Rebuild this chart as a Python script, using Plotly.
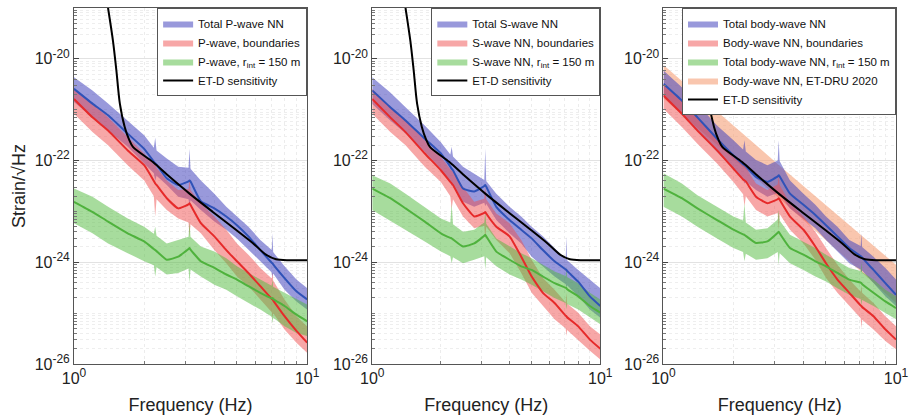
import numpy as np
import plotly.graph_objects as go

# Frequency grid (Hz) shared by all noise curves
FREQ = [1.0, 1.2, 1.4, 1.7, 2.0, 2.2, 2.23, 2.26, 2.5, 2.8, 3.1, 3.13, 3.16, 3.5,
        4.0, 4.5, 5.0, 5.6, 6.3, 7.05, 7.1, 7.15, 8.0, 9.0, 10.0]

# All values below: log10 of strain ASD (1/sqrt(Hz))
# ---- Panel 1: P-waves
P_TOTAL = [-20.59, -20.88, -21.11, -21.47, -21.77, -22.02, -22.05, -22.08, -22.35, -22.48, -22.41, -22.39, -22.41,
           -22.80, -22.94, -23.10, -23.27, -23.49, -23.76, -24.01, -24.02, -24.04, -24.31, -24.57, -24.73]
P_TOTAL_HI = [-20.36, -20.62, -20.88, -21.21, -21.50, -21.75, -21.55, -21.80, -21.96, -22.12, -22.14, -21.77, -22.16,
              -22.39, -22.65, -22.91, -23.10, -23.30, -23.56, -23.76, -23.43, -23.80, -24.08, -24.34, -24.51]
P_TOTAL_LO = [-20.85, -21.15, -21.41, -21.73, -22.06, -22.25, -22.40, -22.30, -22.48, -22.71, -22.76, -22.90, -22.78,
              -22.97, -23.20, -23.36, -23.53, -23.76, -23.98, -24.20, -24.30, -24.22, -24.54, -24.77, -24.93]
P_BOUND = [-20.79, -21.15, -21.41, -21.80, -22.09, -22.40, -22.45, -22.48, -22.74, -22.94, -22.86, -22.84, -22.87,
           -23.23, -23.49, -23.76, -23.98, -24.21, -24.47, -24.72, -24.73, -24.75, -25.06, -25.35, -25.58]
P_BOUND_HI = [-20.59, -20.88, -21.15, -21.54, -21.86, -22.08, -22.05, -22.14, -22.39, -22.58, -22.56, -22.35, -22.58,
              -22.84, -23.10, -23.36, -23.63, -23.85, -24.11, -24.32, -24.20, -24.36, -24.73, -25.06, -25.26]
P_BOUND_LO = [-21.08, -21.44, -21.70, -22.09, -22.39, -22.70, -23.10, -22.76, -22.97, -23.14, -23.22, -23.50, -23.25,
              -23.43, -23.76, -24.02, -24.28, -24.47, -24.73, -24.98, -25.10, -25.00, -25.32, -25.58, -25.78]
P_RINT = [-22.81, -23.01, -23.20, -23.43, -23.59, -23.74, -23.76, -23.78, -23.95, -23.89, -23.74, -23.72, -23.75,
          -23.98, -24.11, -24.24, -24.34, -24.47, -24.60, -24.71, -24.70, -24.72, -24.86, -25.03, -25.16]
P_RINT_HI = [-22.55, -22.71, -22.91, -23.14, -23.30, -23.44, -23.30, -23.48, -23.63, -23.56, -23.50, -23.20, -23.50,
             -23.69, -23.79, -23.92, -24.08, -24.21, -24.34, -24.46, -24.34, -24.48, -24.60, -24.73, -24.83]
P_RINT_LO = [-23.23, -23.43, -23.63, -23.82, -23.98, -24.06, -24.28, -24.10, -24.24, -24.21, -24.12, -24.40, -24.14,
             -24.28, -24.44, -24.54, -24.67, -24.80, -24.93, -25.07, -25.20, -25.09, -25.26, -25.39, -25.45]

# ---- Panel 2: S-waves
S_TOTAL = [-20.62, -20.95, -21.21, -21.57, -21.86, -22.12, -22.16, -22.19, -22.55, -22.61, -22.50, -22.48, -22.51,
           -22.91, -23.17, -23.36, -23.53, -23.76, -23.98, -24.14, -24.15, -24.17, -24.38, -24.67, -24.86]
S_TOTAL_HI = [-20.36, -20.66, -20.95, -21.31, -21.64, -21.88, -21.73, -21.92, -22.12, -22.26, -22.38, -21.77, -22.40,
              -22.65, -22.91, -23.10, -23.30, -23.49, -23.72, -23.94, -23.50, -23.96, -24.15, -24.34, -24.51]
S_TOTAL_LO = [-20.89, -21.21, -21.47, -21.83, -22.16, -22.42, -22.50, -22.47, -22.81, -22.91, -22.83, -22.90, -22.85,
              -23.17, -23.43, -23.63, -23.89, -24.08, -24.28, -24.43, -24.50, -24.45, -24.67, -24.93, -25.09]
S_BOUND = [-20.79, -21.15, -21.44, -21.86, -22.19, -22.42, -22.45, -22.48, -22.84, -23.10, -23.03, -23.01, -23.04,
           -23.30, -23.49, -23.89, -24.28, -24.60, -24.80, -25.05, -25.06, -25.08, -25.26, -25.52, -25.70]
S_BOUND_HI = [-20.59, -20.95, -21.21, -21.60, -21.93, -22.17, -22.19, -22.22, -22.52, -22.81, -22.75, -22.50, -22.76,
              -23.04, -23.23, -23.56, -23.95, -24.31, -24.54, -24.79, -24.60, -24.81, -24.99, -25.26, -25.42]
S_BOUND_LO = [-21.08, -21.44, -21.70, -22.12, -22.42, -22.70, -22.95, -22.76, -23.10, -23.33, -23.28, -23.55, -23.30,
              -23.56, -23.82, -24.21, -24.60, -24.86, -25.12, -25.30, -25.45, -25.33, -25.52, -25.74, -25.91]
S_RINT = [-22.55, -22.74, -22.94, -23.20, -23.43, -23.52, -23.53, -23.55, -23.69, -23.63, -23.48, -23.46, -23.49,
          -23.79, -23.95, -24.08, -24.15, -24.28, -24.41, -24.50, -24.51, -24.53, -24.67, -24.86, -24.99]
S_RINT_HI = [-22.29, -22.45, -22.65, -22.91, -23.14, -23.22, -22.85, -23.25, -23.40, -23.36, -23.22, -22.98, -23.24,
             -23.53, -23.69, -23.82, -23.92, -24.05, -24.18, -24.27, -24.10, -24.29, -24.41, -24.60, -24.73]
S_RINT_LO = [-22.97, -23.17, -23.36, -23.59, -23.79, -23.88, -24.02, -23.90, -24.02, -23.95, -23.88, -24.15, -23.90,
             -24.08, -24.24, -24.34, -24.44, -24.57, -24.70, -24.80, -24.93, -24.82, -24.93, -25.09, -25.22]

# ---- Panel 3: body waves
B_TOTAL = [-20.49, -20.82, -21.15, -21.57, -21.90, -22.07, -22.09, -22.11, -22.32, -22.42, -22.31, -22.29, -22.31,
           -22.65, -22.87, -23.07, -23.27, -23.49, -23.72, -23.88, -23.89, -23.91, -24.15, -24.41, -24.64]
B_TOTAL_HI = [-20.23, -20.56, -20.89, -21.31, -21.60, -21.78, -21.60, -21.82, -21.99, -22.09, -22.00, -21.60, -22.01,
              -22.39, -22.65, -22.87, -23.10, -23.30, -23.56, -23.68, -23.43, -23.70, -23.89, -24.11, -24.34]
B_TOTAL_LO = [-20.75, -21.08, -21.41, -21.83, -22.16, -22.37, -22.45, -22.41, -22.58, -22.71, -22.64, -22.70, -22.66,
              -22.94, -23.14, -23.33, -23.56, -23.79, -24.02, -24.14, -24.20, -24.16, -24.41, -24.67, -24.86]
B_BOUND = [-20.72, -21.08, -21.41, -21.80, -22.16, -22.37, -22.39, -22.41, -22.71, -22.84, -22.76, -22.74, -22.77,
           -23.10, -23.36, -23.69, -24.02, -24.34, -24.60, -24.85, -24.86, -24.88, -25.06, -25.32, -25.52]
B_BOUND_HI = [-20.49, -20.82, -21.15, -21.54, -21.90, -22.10, -22.05, -22.14, -22.45, -22.58, -22.47, -22.30, -22.48,
              -22.84, -23.10, -23.40, -23.72, -24.05, -24.34, -24.58, -24.45, -24.60, -24.80, -25.06, -25.26]
B_BOUND_LO = [-20.98, -21.34, -21.67, -22.06, -22.42, -22.66, -22.90, -22.70, -22.97, -23.10, -23.03, -23.36, -23.05,
              -23.36, -23.63, -23.95, -24.31, -24.60, -24.86, -25.10, -25.30, -25.13, -25.32, -25.55, -25.71]
B_RINT = [-22.55, -22.74, -22.94, -23.17, -23.36, -23.45, -23.46, -23.48, -23.62, -23.59, -23.42, -23.40, -23.43,
          -23.72, -23.85, -23.98, -24.08, -24.21, -24.34, -24.40, -24.41, -24.43, -24.60, -24.77, -24.90]
B_RINT_HI = [-22.25, -22.45, -22.68, -22.91, -23.10, -23.18, -22.84, -23.22, -23.36, -23.33, -23.16, -22.97, -23.18,
             -23.46, -23.59, -23.72, -23.85, -23.98, -24.11, -24.17, -24.00, -24.19, -24.34, -24.54, -24.67]
B_RINT_LO = [-22.91, -23.10, -23.30, -23.53, -23.72, -23.80, -23.98, -23.83, -23.95, -23.92, -23.80, -24.05, -23.82,
             -24.02, -24.15, -24.28, -24.38, -24.51, -24.64, -24.72, -24.85, -24.74, -24.86, -24.99, -25.12]

# ET-DRU 2020 body-wave NN band
FREQ_DRU = [1.0, 3.16, 10.0]
DRU_HI = [-20.12, -22.10, -24.05]
DRU_LO = [-20.78, -22.75, -24.80]

# ET-D sensitivity
FREQ_ETD = [1.30, 1.40, 1.47, 1.52, 1.573, 1.65, 1.72, 1.79, 2.18, 2.57, 3.13, 3.94, 4.95, 5.84, 6.66, 7.35, 8.36, 10.0]
ETD = [-18.0, -19.0, -19.65, -20.23, -20.88, -21.34, -21.58, -21.73, -22.03, -22.32, -22.65, -23.01, -23.36,
       -23.62, -23.85, -23.94, -23.96, -23.96]

LEGEND_TEXT = [
    ["Total P-wave NN", "P-wave, boundaries", "P-wave, r<sub>int</sub> = 150 m", None],
    ["Total S-wave NN", "S-wave NN, boundaries", "S-wave NN, r<sub>int</sub> = 150 m", None],
    ["Total body-wave NN", "Body-wave NN, boundaries", "Total body-wave NN, r<sub>int</sub> = 150 m",
     "Body-wave NN, ET-DRU 2020"],
]
ETD_NAME = "ET-D sensitivity"

PANELS = [
    (P_TOTAL, P_TOTAL_HI, P_TOTAL_LO, P_BOUND, P_BOUND_HI, P_BOUND_LO, P_RINT, P_RINT_HI, P_RINT_LO),
    (S_TOTAL, S_TOTAL_HI, S_TOTAL_LO, S_BOUND, S_BOUND_HI, S_BOUND_LO, S_RINT, S_RINT_HI, S_RINT_LO),
    (B_TOTAL, B_TOTAL_HI, B_TOTAL_LO, B_BOUND, B_BOUND_HI, B_BOUND_LO, B_RINT, B_RINT_HI, B_RINT_LO),
]

FILL_COLORS = ["rgba(70,70,190,0.55)", "rgba(240,80,80,0.5)", "rgba(80,185,60,0.5)"]
LINE_COLORS = ["#2f52b8", "#e62a2a", "#4fb23d"]
DRU_COLOR = "rgba(245,160,120,0.6)"

FONT = "Liberation Sans, Arial, Helvetica, sans-serif"
DOMAINS = [[0.0, 0.2836], [0.3628, 0.6403], [0.7171, 1.0]]

f = np.array(FREQ)


def lin(v):
    return 10.0 ** np.array(v)


def band(x, hi, lo):
    xs = np.concatenate([np.array(x), np.array(x)[::-1]])
    ys = np.concatenate([lin(hi), lin(lo)[::-1]])
    return xs, ys


def sup_label(base, exp):
    return f"{base}<sup><span style='font-size:12px'>{exp}</span></sup>"


fig = go.Figure()

for i, data in enumerate(PANELS):
    sfx = "" if i == 0 else str(i + 1)
    xa, ya = "x" + sfx, "y" + sfx
    leg = "legend" + sfx
    names = LEGEND_TEXT[i]
    if names[3] is not None:
        xs, ys = band(FREQ_DRU, DRU_HI, DRU_LO)
        fig.add_trace(go.Scatter(x=xs, y=ys, fill="toself", fillcolor=DRU_COLOR, mode="lines",
                                 line=dict(width=0, color=DRU_COLOR), name=names[3], legend=leg,
                                 legendrank=4, xaxis=xa, yaxis=ya, hoverinfo="skip"))
    for k in range(3):
        hi, lo = data[3 * k + 1], data[3 * k + 2]
        xs, ys = band(FREQ, hi, lo)
        fig.add_trace(go.Scatter(x=xs, y=ys, fill="toself", fillcolor=FILL_COLORS[k], mode="lines",
                                 line=dict(width=0, color=FILL_COLORS[k]), name=names[k], legend=leg,
                                 legendrank=k + 1, xaxis=xa, yaxis=ya, hoverinfo="skip"))
    for k in range(3):
        med = data[3 * k]
        fig.add_trace(go.Scatter(x=f, y=lin(med), mode="lines",
                                 line=dict(color=LINE_COLORS[k], width=2, shape="spline", smoothing=0.4),
                                 showlegend=False, xaxis=xa, yaxis=ya))
    fig.add_trace(go.Scatter(x=FREQ_ETD, y=lin(ETD), mode="lines",
                             line=dict(color="black", width=2, shape="spline", smoothing=0.8),
                             name=ETD_NAME, legend=leg, legendrank=5, xaxis=xa, yaxis=ya))

x_minor = [2, 3, 4, 5, 6, 7, 8, 9]
y_major = [1e-26, 1e-24, 1e-22, 1e-20]
y_minor = [k * 10.0 ** n for n in range(-26, -19) for k in range(1, 10)
           if not (k == 1 and n % 2 == 0)]
y_text = [sup_label("10", e) for e in ["-26", "-24", "-22", "-20"]]
x_text = [sup_label("10", e) for e in ["0", "1"]]

layout = dict(
    width=916, height=419,
    margin=dict(l=74, r=15, t=7, b=54),
    paper_bgcolor="white", plot_bgcolor="white",
    font=dict(family=FONT, color="#222"),
    showlegend=True,
)

legend_right = [DOMAINS[0][1], DOMAINS[1][1], DOMAINS[2][1]]
for i in range(3):
    sfx = "" if i == 0 else str(i + 1)
    layout["xaxis" + sfx] = dict(
        type="log", range=[0, 1], domain=DOMAINS[i], anchor="y" + sfx,
        tickmode="array", tickvals=[1, 10], ticktext=x_text,
        tickfont=dict(size=16, family=FONT, color="#222"),
        ticks="inside", ticklen=5, tickcolor="#444",
        showline=True, mirror=True, linecolor="#555", linewidth=1,
        showgrid=True, gridcolor="#e2e2e2", gridwidth=1, zeroline=False,
        minor=dict(tickmode="array", tickvals=x_minor, ticks="inside", ticklen=3, tickcolor="#777",
                   showgrid=True, gridcolor="#ececec", griddash="dot", gridwidth=1),
        title=dict(text="Frequency (Hz)", font=dict(size=18, family=FONT, color="#222"), standoff=12),
    )
    ya = dict(
        type="log", range=[-26, -19], domain=[0, 1], anchor="x" + sfx,
        tickmode="array", tickvals=y_major, ticktext=y_text,
        tickfont=dict(size=16, family=FONT, color="#222"),
        ticks="inside", ticklen=5, tickcolor="#444",
        showline=True, mirror=True, linecolor="#555", linewidth=1,
        showgrid=True, gridcolor="#e2e2e2", gridwidth=1, zeroline=False,
        minor=dict(tickmode="array", tickvals=y_minor, ticks="inside", ticklen=3, tickcolor="#777",
                   showgrid=True, gridcolor="#eeeeee", griddash="dot", gridwidth=1),
    )
    if i == 0:
        ya["title"] = dict(text="Strain/\u221aHz", font=dict(size=18, family=FONT, color="#222"), standoff=4)
    layout["yaxis" + sfx] = ya
    layout["legend" + sfx] = dict(
        x=legend_right[i], xanchor="right", y=1, yanchor="top",
        bgcolor="white", bordercolor="#555", borderwidth=1,
        font=dict(size=11.5, family=FONT, color="#111"),
        itemwidth=30, tracegroupgap=0, traceorder="normal",
    )

fig.update_layout(**layout)
fig.write_html("out.html")
